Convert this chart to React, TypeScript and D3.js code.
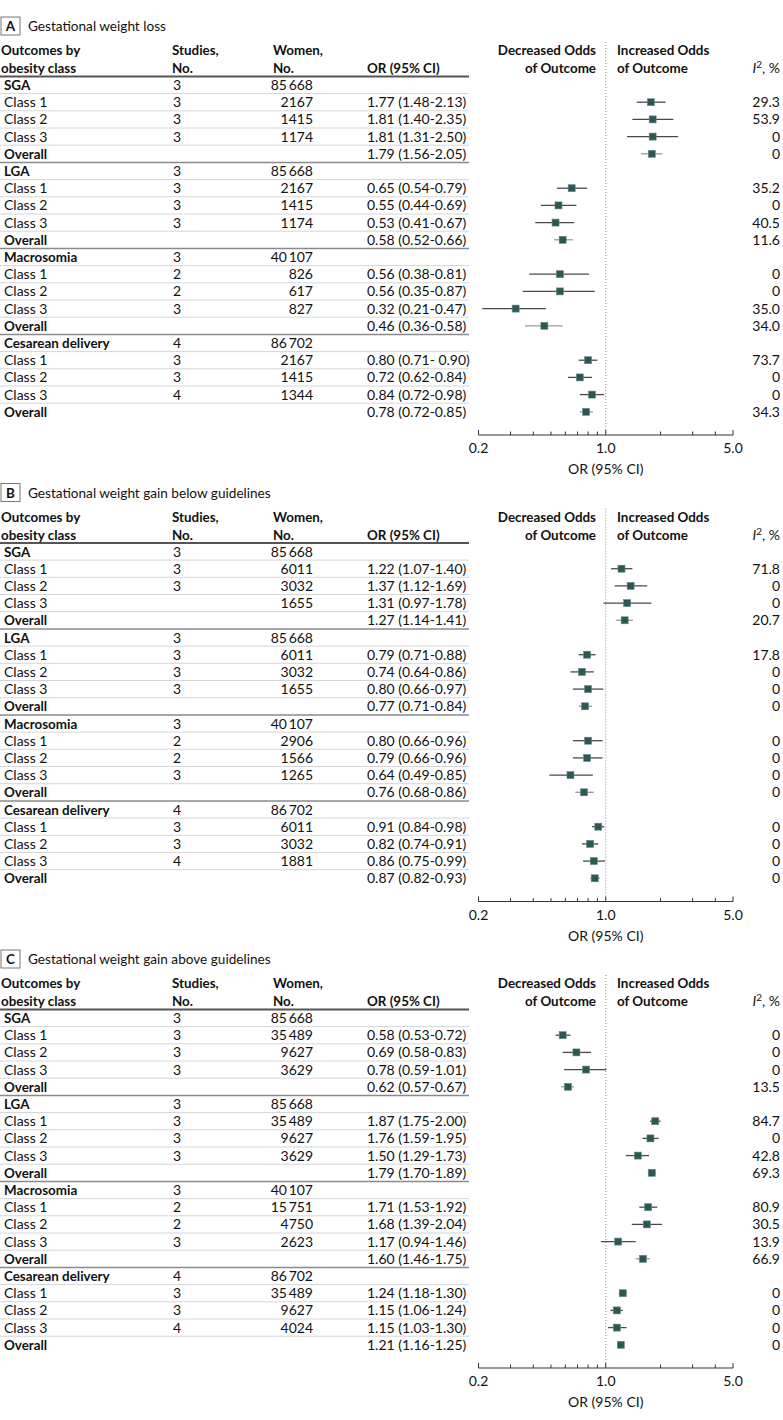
import React from "react";
import * as d3 from "d3";

const groupNames = ["SGA", "LGA", "Macrosomia", "Cesarean delivery"];
const rowNames = ["Class 1", "Class 2", "Class 3", "Overall"];
const groupStudies = ["3", "3", "3", "4"];
const groupWomen = ["85\u2009668", "85\u2009668", "40\u2009107", "86\u2009702"];
const panelLetters = ["A", "B", "C"];
const panelTitles = [
  "Gestational weight loss",
  "Gestational weight gain below guidelines",
  "Gestational weight gain above guidelines",
];
const tickValues = [0.2, 0.3, 0.4, 0.5, 0.6, 0.7, 0.8, 0.9, 1, 2, 3, 4, 5];
const labeledTicks = [0.2, 1, 5];
const tickLabels = ["0.2", "1.0", "5.0"];

// Panel A
const aStudies = ["3", "3", "3", "", "3", "3", "3", "", "2", "2", "3", "", "3", "3", "4", ""];
const aWomen = ["2167", "1415", "1174", "", "2167", "1415", "1174", "", "826", "617", "827", "", "2167", "1415", "1344", ""];
const aOR = [1.77, 1.81, 1.81, 1.79, 0.65, 0.55, 0.53, 0.58, 0.56, 0.56, 0.32, 0.46, 0.8, 0.72, 0.84, 0.78];
const aLo = [1.48, 1.4, 1.31, 1.56, 0.54, 0.44, 0.41, 0.52, 0.38, 0.35, 0.21, 0.36, 0.71, 0.62, 0.72, 0.72];
const aHi = [2.13, 2.35, 2.5, 2.05, 0.79, 0.69, 0.67, 0.66, 0.81, 0.87, 0.47, 0.58, 0.9, 0.84, 0.98, 0.85];
const aText = [
  "1.77 (1.48-2.13)", "1.81 (1.40-2.35)", "1.81 (1.31-2.50)", "1.79 (1.56-2.05)",
  "0.65 (0.54-0.79)", "0.55 (0.44-0.69)", "0.53 (0.41-0.67)", "0.58 (0.52-0.66)",
  "0.56 (0.38-0.81)", "0.56 (0.35-0.87)", "0.32 (0.21-0.47)", "0.46 (0.36-0.58)",
  "0.80 (0.71- 0.90)", "0.72 (0.62-0.84)", "0.84 (0.72-0.98)", "0.78 (0.72-0.85)",
];
const aI2 = ["29.3", "53.9", "0", "0", "35.2", "0", "40.5", "11.6", "0", "0", "35.0", "34.0", "73.7", "0", "0", "34.3"];

// Panel B
const bStudies = ["3", "3", "", "", "3", "3", "3", "", "2", "2", "3", "", "3", "3", "4", ""];
const bWomen = ["6011", "3032", "1655", "", "6011", "3032", "1655", "", "2906", "1566", "1265", "", "6011", "3032", "1881", ""];
const bOR = [1.22, 1.37, 1.31, 1.27, 0.79, 0.74, 0.8, 0.77, 0.8, 0.79, 0.64, 0.76, 0.91, 0.82, 0.86, 0.87];
const bLo = [1.07, 1.12, 0.97, 1.14, 0.71, 0.64, 0.66, 0.71, 0.66, 0.66, 0.49, 0.68, 0.84, 0.74, 0.75, 0.82];
const bHi = [1.4, 1.69, 1.78, 1.41, 0.88, 0.86, 0.97, 0.84, 0.96, 0.96, 0.85, 0.86, 0.98, 0.91, 0.99, 0.93];
const bText = [
  "1.22 (1.07-1.40)", "1.37 (1.12-1.69)", "1.31 (0.97-1.78)", "1.27 (1.14-1.41)",
  "0.79 (0.71-0.88)", "0.74 (0.64-0.86)", "0.80 (0.66-0.97)", "0.77 (0.71-0.84)",
  "0.80 (0.66-0.96)", "0.79 (0.66-0.96)", "0.64 (0.49-0.85)", "0.76 (0.68-0.86)",
  "0.91 (0.84-0.98)", "0.82 (0.74-0.91)", "0.86 (0.75-0.99)", "0.87 (0.82-0.93)",
];
const bI2 = ["71.8", "0", "0", "20.7", "17.8", "0", "0", "0", "0", "0", "0", "0", "0", "0", "0", "0"];

// Panel C
const cStudies = ["3", "3", "3", "", "3", "3", "3", "", "2", "2", "3", "", "3", "3", "4", ""];
const cWomen = ["35\u2009489", "9627", "3629", "", "35\u2009489", "9627", "3629", "", "15\u2009751", "4750", "2623", "", "35\u2009489", "9627", "4024", ""];
const cOR = [0.58, 0.69, 0.78, 0.62, 1.87, 1.76, 1.5, 1.79, 1.71, 1.68, 1.17, 1.6, 1.24, 1.15, 1.15, 1.21];
const cLo = [0.53, 0.58, 0.59, 0.57, 1.75, 1.59, 1.29, 1.7, 1.53, 1.39, 0.94, 1.46, 1.18, 1.06, 1.03, 1.16];
const cHi = [0.64, 0.83, 1.01, 0.67, 2.0, 1.95, 1.73, 1.89, 1.92, 2.04, 1.46, 1.75, 1.3, 1.24, 1.3, 1.25];
const cText = [
  "0.58 (0.53-0.72)", "0.69 (0.58-0.83)", "0.78 (0.59-1.01)", "0.62 (0.57-0.67)",
  "1.87 (1.75-2.00)", "1.76 (1.59-1.95)", "1.50 (1.29-1.73)", "1.79 (1.70-1.89)",
  "1.71 (1.53-1.92)", "1.68 (1.39-2.04)", "1.17 (0.94-1.46)", "1.60 (1.46-1.75)",
  "1.24 (1.18-1.30)", "1.15 (1.06-1.24)", "1.15 (1.03-1.30)", "1.21 (1.16-1.25)",
];
const cI2 = ["0", "0", "0", "13.5", "84.7", "0", "42.8", "69.3", "80.9", "30.5", "13.9", "66.9", "0", "0", "0", "0"];

const panels = [
  { studies: aStudies, women: aWomen, or: aOR, lo: aLo, hi: aHi, text: aText, i2: aI2 },
  { studies: bStudies, women: bWomen, or: bOR, lo: bLo, hi: bHi, text: bText, i2: bI2 },
  { studies: cStudies, women: cWomen, or: cOR, lo: cLo, hi: cHi, text: cText, i2: cI2 },
];

const W = 783;
const H = 1420;
const PANEL_H = 466.5;
const FONT = "Lato, 'Liberation Sans', sans-serif";
const FS = 14;
const FS_BOLD = 13.4;
const MARK = "#2c5752";
const TXT = "#111";

const x = d3.scaleLog().domain([0.2, 5]).range([478.5, 733]);
const yRow = d3.scaleLinear().domain([0, 19]).range([85, 85 + 19 * 17.2]);

const COL = { label: 4, studies: 173, women: 313, or: 367, dec: 596, inc: 617, i2: 780, sepEnd: 469 };

function Panel({ idx }: { idx: number }) {
  const p = panels[idx];
  const y0 = idx * PANEL_H;
  const axisY = 435;
  const rows: React.ReactNode[] = [];
  groupNames.forEach((g, gi) => {
    const rh = gi * 5;
    rows.push(
      <g key={"g" + gi}>
        <text x={COL.label} y={yRow(rh) + 5} fontWeight="bold" fontSize={FS_BOLD}>{g}</text>
        <text x={COL.studies} y={yRow(rh) + 5}>{groupStudies[gi]}</text>
        <text x={COL.women} y={yRow(rh) + 5} textAnchor="end">{groupWomen[gi]}</text>
      </g>
    );
    rowNames.forEach((rn, k) => {
      const i = gi * 4 + k;
      const r = rh + 1 + k;
      const yy = yRow(r);
      const overall = k === 3;
      rows.push(
        <g key={"r" + i}>
          <text x={COL.label} y={yy + 5} fontWeight={overall ? "bold" : "normal"} fontSize={overall ? FS_BOLD : FS}>{rn}</text>
          <text x={COL.studies} y={yy + 5}>{p.studies[i]}</text>
          <text x={COL.women} y={yy + 5} textAnchor="end">{p.women[i]}</text>
          <text x={COL.or} y={yy + 5}>{p.text[i]}</text>
          <text x={COL.i2} y={yy + 5} textAnchor="end">{p.i2[i]}</text>
          <line x1={x(p.lo[i])} x2={x(p.hi[i])} y1={yy} y2={yy} stroke={overall ? "#9a9a9a" : "#4a4a4a"} strokeWidth={1.3} />
          <rect x={x(p.or[i]) - 3.5} y={yy - 3.5} width={7} height={7} fill={MARK} stroke="#5f8a86" strokeWidth={0.6} />
        </g>
      );
    });
  });
  const seps: React.ReactNode[] = [];
  for (let r = 0; r < 19; r++) {
    const yy = (yRow(r) + yRow(r + 1)) / 2;
    const dark = (r + 1) % 5 === 0;
    seps.push(
      <line key={"s" + r} x1={0} x2={COL.sepEnd} y1={yy} y2={yy} stroke={dark ? "#8a8a8a" : "#d6d6d6"} strokeWidth={dark ? 1.5 : 1} />
    );
  }
  return (
    <g transform={`translate(0,${y0})`}>
      <rect x={1} y={17} width={19} height={18} fill="#fff" stroke="#777" strokeWidth={1} />
      <text x={10.5} y={31} textAnchor="middle" fontWeight="bold" fontSize={FS_BOLD}>{panelLetters[idx]}</text>
      <text x={28} y={31} fontSize={13.6}>{panelTitles[idx]}</text>

      <g fontWeight="bold" fontSize={FS_BOLD}>
        <text x={1} y={55}>Outcomes by</text>
        <text x={1} y={73}>obesity class</text>
        <text x={172} y={55}>Studies,</text>
        <text x={172} y={73}>No.</text>
        <text x={273} y={55}>Women,</text>
        <text x={273} y={73}>No.</text>
        <text x={COL.or} y={73}>OR (95% CI)</text>
        <text x={COL.dec} y={55} textAnchor="end">Decreased Odds</text>
        <text x={COL.dec} y={73} textAnchor="end">of Outcome</text>
        <text x={COL.inc} y={55}>Increased Odds</text>
        <text x={COL.inc} y={73}>of Outcome</text>
        <text x={COL.i2} y={73} textAnchor="end" fontSize={FS}>
          <tspan fontStyle="italic" fontWeight="normal">I</tspan>
          <tspan dy={-5} fontSize={10} fontWeight="normal">2</tspan>
          <tspan dy={5} fontWeight="normal">, %</tspan>
        </text>
      </g>
      <line x1={0} x2={COL.sepEnd} y1={76.5} y2={76.5} stroke="#555" strokeWidth={2} />
      {seps}
      <line x1={x(1)} x2={x(1)} y1={42} y2={axisY} stroke="#888" strokeWidth={1} strokeDasharray="1,2" />
      {rows}
      <line x1={x(0.2)} x2={x(5)} y1={axisY} y2={axisY} stroke="#333" strokeWidth={1} />
      {tickValues.map((t) => (
        <line key={"t" + t} x1={x(t)} x2={x(t)} y1={axisY} y2={axisY - (labeledTicks.includes(t) ? 5 : 3.5)} stroke="#333" strokeWidth={1} />
      ))}
      {labeledTicks.map((t, i) => (
        <text key={"tl" + t} x={x(t)} y={axisY + 18} textAnchor="middle">{tickLabels[i]}</text>
      ))}
      <text x={x(1)} y={axisY + 39} textAnchor="middle">OR (95% CI)</text>
    </g>
  );
}

export default function App() {
  return (
    <div style={{ position: "absolute", left: 0, top: 0, background: "#fff" }}>
      <svg width={W} height={H} fontFamily={FONT} fontSize={FS} fill={TXT} style={{ display: "block" }}>
        <rect x={0} y={0} width={W} height={H} fill="#fff" />
        {panelLetters.map((_, i) => (
          <Panel key={i} idx={i} />
        ))}
      </svg>
    </div>
  );
}
